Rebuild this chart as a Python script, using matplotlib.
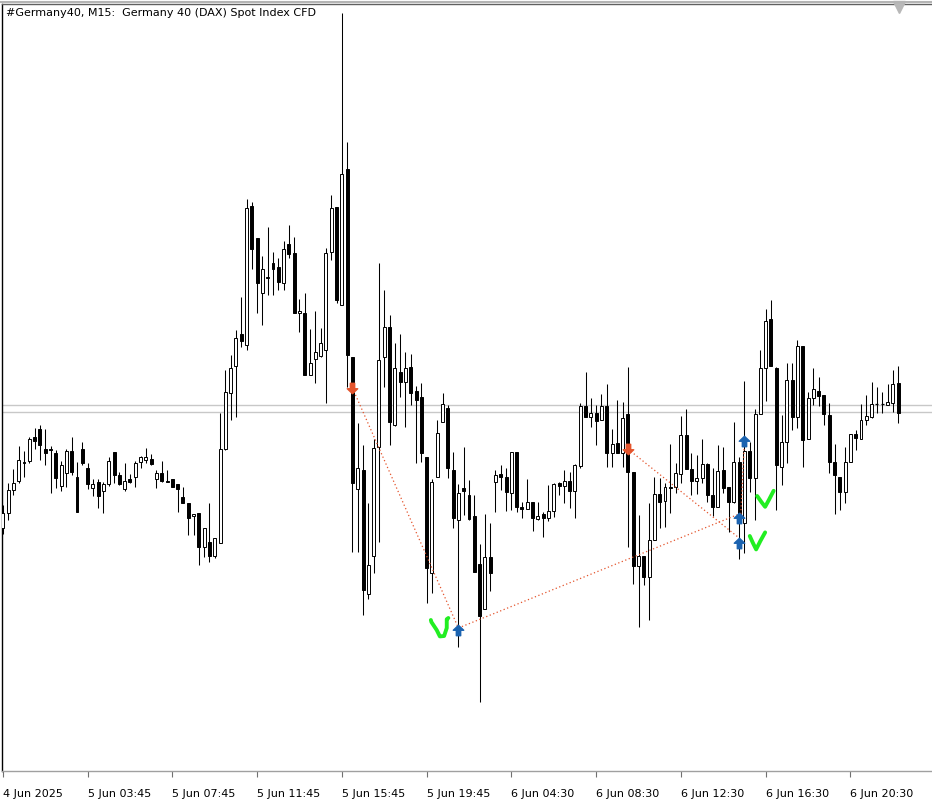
import matplotlib
matplotlib.use("Agg")
from matplotlib import pyplot as plt
from matplotlib import transforms
from matplotlib.patches import Rectangle
from matplotlib.path import Path


TITLE = "#Germany40, M15:  Germany 40 (DAX) Spot Index CFD"
TICK_STEP = 16
TICK_LABELS = [
    "4 Jun 2025", "5 Jun 03:45", "5 Jun 07:45", "5 Jun 11:45", "5 Jun 15:45",
    "5 Jun 19:45", "6 Jun 04:30", "6 Jun 08:30", "6 Jun 12:30", "6 Jun 16:30",
    "6 Jun 20:30",
]

OPEN = [
    24236, 24243.5, 24255, 24259.5, 24269, 24269.5, 24281.5, 24285.5, 24275.5, 24275.5,
    24273.5, 24257, 24263.5, 24274.5, 24261.5, 24275.5, 24266, 24256, 24259, 24254.5,
    24258, 24274, 24262.5, 24255.5, 24260.5, 24261.5, 24269, 24270, 24270.5, 24260.5,
    24263.5, 24259.5, 24260.5, 24258, 24251.5, 24248.5, 24242, 24243.5, 24226.5, 24229,
    24222, 24228.5, 24275.5, 24303.5, 24317, 24333, 24327.5, 24397, 24381, 24353.5,
    24361, 24368.5, 24366.5, 24358.5, 24378, 24373.5, 24343.5, 24343.5, 24312.5, 24320.5,
    24322, 24325, 24374, 24396.5, 24347.5, 24415.5, 24321.5, 24255.5, 24265, 24203,
    24222, 24276.5, 24321.5, 24336.5, 24287.5, 24314, 24309, 24316.5, 24304.5, 24301.5,
    24271.5, 24213.5, 24261.5, 24289, 24296, 24265, 24240, 24256, 24252.5, 24242,
    24218, 24195.5, 24221.5, 24259, 24263, 24261.5, 24253.5, 24274, 24246.5, 24245.5,
    24249, 24240.5, 24243, 24241, 24244.5, 24258.5, 24257, 24259.5, 24254.5, 24267,
    24297, 24291.5, 24293.5, 24290, 24297, 24273.5, 24278.5, 24273.5, 24293, 24264,
    24217, 24222, 24211.5, 24230, 24253, 24249.5, 24256.5, 24256.5, 24263, 24282.5,
    24265.5, 24259.5, 24261, 24268, 24252.5, 24246.5, 24265, 24256.5, 24249, 24269,
    24238.5, 24274.5, 24261, 24293, 24316, 24340.5, 24316, 24266.5, 24279, 24310,
    24291.5, 24327, 24280.5, 24301, 24304.5, 24302.5, 24292.5, 24269, 24261.5, 24254,
    24269, 24283, 24280.5, 24290, 24291.5, 24298, 24298, 24297.5, 24298.5, 24308.5,
]
HIGH = [
    24247.5, 24258.5, 24265.5, 24277, 24274.5, 24281.5, 24286, 24287.5, 24285.5, 24277,
    24275, 24269.5, 24275.5, 24281.5, 24269, 24279, 24268.5, 24260.5, 24260.5, 24259,
    24271.5, 24274, 24264, 24268.5, 24263, 24269.5, 24272, 24276, 24273, 24265,
    24269.5, 24265, 24260.5, 24258, 24256.5, 24248.5, 24243, 24243.5, 24236, 24248.5,
    24231, 24293.5, 24315, 24322.5, 24335, 24351.5, 24400.5, 24399, 24381, 24372,
    24386.5, 24374, 24371, 24379.5, 24387.5, 24381.5, 24350.5, 24353.5, 24335.5, 24344.5,
    24336, 24376, 24402.5, 24396.5, 24493.5, 24429, 24321.5, 24288.5, 24277.5, 24248.5,
    24280.5, 24368.5, 24355, 24342.5, 24328.5, 24333, 24324, 24323, 24307, 24308.5,
    24271.5, 24260.5, 24290, 24303.5, 24297.5, 24274, 24258, 24276.5, 24260, 24252.5,
    24228, 24243, 24238.5, 24265, 24267.5, 24266, 24274, 24274, 24249, 24260.5,
    24249, 24249, 24244, 24257.5, 24258.5, 24259, 24265, 24264, 24268, 24298.5,
    24314, 24301, 24297.5, 24303, 24308, 24285.5, 24300, 24299, 24316.5, 24264,
    24242.5, 24222, 24248.5, 24261.5, 24261, 24258.5, 24278, 24268.5, 24292, 24295.5,
    24273.5, 24272.5, 24280.5, 24268.5, 24266, 24277.5, 24276.5, 24256.5, 24289, 24271.5,
    24309.5, 24279, 24295.5, 24325, 24345.5, 24350, 24316.5, 24292.5, 24318.5, 24318.5,
    24330, 24327, 24304, 24316, 24311.5, 24302.5, 24298.5, 24278, 24261.5, 24276.5,
    24283, 24285, 24298, 24302.5, 24309, 24306.5, 24304, 24308, 24315, 24317,
]
LOW = [
    24233, 24240, 24252.5, 24258.5, 24261.5, 24268.5, 24275.5, 24270, 24267.5, 24253.5,
    24256, 24254.5, 24256.5, 24262.5, 24244, 24267.5, 24255.5, 24252, 24246, 24243.5,
    24257, 24258.5, 24257.5, 24254.5, 24258.5, 24256.5, 24266, 24268.5, 24267.5, 24256,
    24259, 24259, 24256.5, 24244, 24248.5, 24232.5, 24232.5, 24217.5, 24221.5, 24219,
    24221, 24228.5, 24275, 24290, 24291.5, 24326.5, 24325, 24365.5, 24343.5, 24337.5,
    24352.5, 24352.5, 24355, 24355, 24371, 24343.5, 24334, 24312.5, 24312.5, 24308.5,
    24321.5, 24298.5, 24370, 24348.5, 24347.5, 24306.5, 24224, 24224, 24192.5, 24200.5,
    24213.5, 24229, 24306.5, 24277.5, 24287, 24301.5, 24286.5, 24297.5, 24268.5, 24269,
    24198.5, 24203.5, 24261.5, 24289, 24261, 24236, 24176.5, 24242.5, 24240, 24214,
    24149, 24195.5, 24204.5, 24244, 24255, 24244.5, 24245, 24244, 24241, 24245.5,
    24234.5, 24240, 24231.5, 24239.5, 24241.5, 24252.5, 24248.5, 24246, 24241, 24266,
    24291.5, 24286.5, 24277.5, 24290, 24266.5, 24266.5, 24273.5, 24266.5, 24226.5, 24208,
    24186.5, 24207.5, 24190, 24230, 24236, 24236.5, 24243.5, 24253.5, 24258.5, 24265.5,
    24252.5, 24253, 24258.5, 24249, 24242, 24246.5, 24253.5, 24234, 24248.5, 24220.5,
    24223.5, 24254, 24240, 24293, 24299.5, 24317, 24245, 24257.5, 24268.5, 24285,
    24286, 24266.5, 24280.5, 24297.5, 24297, 24287.5, 24263.5, 24243, 24245, 24248.5,
    24269, 24275, 24280.5, 24287.5, 24291, 24293.5, 24293.5, 24297.5, 24294, 24288.5,
]
CLOSE = [
    24243.5, 24255, 24258.5, 24270, 24268.5, 24280.5, 24279.5, 24277.5, 24273.5, 24275,
    24261, 24267.5, 24274.5, 24264, 24244, 24268.5, 24258, 24258, 24252, 24258,
    24269.5, 24262.5, 24258, 24259.5, 24259, 24268.5, 24271.5, 24271.5, 24268, 24263.5,
    24259.5, 24259, 24256.5, 24255.5, 24248.5, 24241, 24243, 24226.5, 24236, 24222,
    24231, 24275.5, 24304, 24316, 24331, 24329.5, 24396, 24375.5, 24358.5, 24365.5,
    24361.5, 24365.5, 24359, 24375.5, 24373, 24343.5, 24344.5, 24312.5, 24318.5, 24324,
    24328.5, 24373.5, 24396, 24350, 24413, 24322.5, 24258.5, 24266, 24205, 24217.5,
    24276, 24320, 24336.5, 24289, 24316, 24309, 24316, 24303.5, 24300, 24273.5,
    24216, 24259, 24283.5, 24298, 24266, 24241, 24253.5, 24254.5, 24240.5, 24214,
    24192, 24221.5, 24213.5, 24262.5, 24261.5, 24254, 24274, 24246.5, 24245.5, 24249,
    24241, 24242, 24241, 24244.5, 24258, 24257, 24259.5, 24254.5, 24267.5, 24297,
    24291.5, 24293.5, 24289.5, 24297, 24273.5, 24278, 24273.5, 24291, 24264, 24217,
    24222, 24211.5, 24230, 24253, 24249, 24256.5, 24256, 24263.5, 24282.5, 24265.5,
    24259.5, 24261, 24268, 24252.5, 24246.5, 24264.5, 24256, 24249, 24269, 24243,
    24274.5, 24261, 24293, 24316, 24339.5, 24317, 24267.5, 24279, 24310, 24291.5,
    24327, 24280, 24301, 24305.5, 24302, 24293, 24269, 24262.5, 24254, 24269,
    24283, 24281, 24290, 24292, 24298, 24298, 24298, 24299, 24308, 24293.5,
]

BID = 24294.0
ASK = 24297.5

# trade arrows (bar index, price)
SELL_BARS = [66, 118]
SELL_PRICES = [24306.0, 24275.5]
BUY_BARS = [86, 139, 139, 140]
BUY_PRICES = [24185.0, 24241.0, 24228.5, 24279.5]

# dotted trade lines: (bar, price) -> (bar, price)
TRADE_LINES = [
    ((66, 24306.0), (86, 24186.0)),
    ((86, 24186.0), (139, 24243.0)),
    ((118, 24275.5), (139, 24231.0)),
    ((139.3, 24243.0), (140, 24279.5)),
]

# hand drawn green ticks
CHECKS = [
    [(80.8, 24190.0), (80.9, 24189.0), (81.9, 24185.0), (82.5, 24181.8),
     (83.3, 24182.0), (83.8, 24186.0), (83.8, 24190.4), (84.1, 24191.0)],
    [(142.4, 24252.0), (143.2, 24249.0), (143.9, 24246.6), (144.6, 24250.0),
     (145.5, 24254.6)],
    [(141.0, 24232.0), (141.6, 24228.5), (142.2, 24225.3), (143.0, 24229.5),
     (143.9, 24233.8)],
]

RED = "#e4542c"
BLUE = "#1b63b0"
GREEN = "#22ee22"


def arrow_marker(up=True):
    verts = [(0, 1), (1, 0.05), (0.42, 0.05), (0.42, -1), (-0.42, -1),
             (-0.42, 0.05), (-1, 0.05), (0, 1)]
    if not up:
        verts = [(x, -y) for x, y in verts]
    codes = [Path.MOVETO] + [Path.LINETO] * (len(verts) - 2) + [Path.CLOSEPOLY]
    return Path(verts, codes)


def main():
    fig = plt.figure(figsize=(9.32, 8.0), dpi=100)
    ax = fig.add_axes([1.5 / 932, 29 / 800, 930.5 / 932, 767 / 800])

    body_w = 0.56
    for i in range(len(OPEN)):
        o, h, l, c = OPEN[i], HIGH[i], LOW[i], CLOSE[i]
        ax.vlines(i, l, h, color="black", lw=0.75, zorder=2)
        top, bot = max(o, c), min(o, c)
        if top - bot < 0.3:
            ax.hlines(o, i - body_w / 2, i + body_w / 2, color="black", lw=0.9, zorder=3)
            continue
        face = "white" if c > o else "black"
        ax.add_patch(Rectangle((i - body_w / 2, bot), body_w, top - bot,
                               facecolor=face, edgecolor="black", lw=0.7, zorder=3))

    ax.axhline(BID, color="#c8c8c8", lw=1.0, zorder=1)
    ax.axhline(ASK, color="#c8c8c8", lw=1.0, zorder=1)

    for (x0, y0), (x1, y1) in TRADE_LINES:
        ax.plot([x0, x1], [y0, y1], color=RED, lw=0.9, ls=(0, (1, 2)), zorder=4)

    ax.plot(SELL_BARS, SELL_PRICES, ls="none", marker=arrow_marker(False),
            markersize=7.5, color=RED, zorder=5)
    ax.plot(BUY_BARS, BUY_PRICES, ls="none", marker=arrow_marker(True),
            markersize=7.5, color=BLUE, zorder=5)

    for pts in CHECKS:
        xs = [p[0] for p in pts]
        ys = [p[1] for p in pts]
        ax.plot(xs, ys, color=GREEN, lw=2.8, solid_capstyle="round",
                solid_joinstyle="round", zorder=6)

    ax.set_xlim(-0.25, 175.4)
    ax.set_ylim(24114.5, 24498.0)

    ticks = [k * TICK_STEP for k in range(len(TICK_LABELS))]
    ax.set_xticks(ticks)
    ax.set_xticklabels(TICK_LABELS, fontsize=8, family="DejaVu Sans")
    offset = transforms.ScaledTranslation(2 / 100, 0, fig.dpi_scale_trans)
    for lbl in ax.get_xticklabels():
        lbl.set_horizontalalignment("left")
        lbl.set_transform(lbl.get_transform() + offset)
    ax.tick_params(axis="x", direction="out", length=4, width=0.8,
                   color="#707070", pad=9)
    ax.set_yticks([])

    ax.spines["right"].set_visible(False)
    ax.spines["left"].set_color("black")
    ax.spines["left"].set_linewidth(1.0)
    ax.spines["bottom"].set_color("#a0a0a0")
    ax.spines["bottom"].set_linewidth(1.0)
    ax.spines["top"].set_color("#606060")
    ax.spines["top"].set_linewidth(1.0)

    fig.add_artist(plt.Line2D([0, 1], [1 - 1.5 / 800, 1 - 1.5 / 800],
                              transform=fig.transFigure, color="#b4b4b4", lw=1.5))
    ax.plot([(899 - 1.5) / 930.5], [1 - 3 / 767], marker="v", markersize=8,
            color="#b8b8b8", transform=ax.transAxes, clip_on=False, zorder=7)

    fig.text(6 / 932, 1 - 13 / 800, TITLE, fontsize=8, va="center", ha="left",
             family="DejaVu Sans", color="black")

    fig.savefig("out.png", dpi=100, facecolor="white")


if __name__ == "__main__":
    main()
